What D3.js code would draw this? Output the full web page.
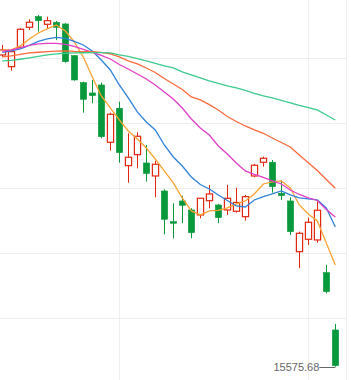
<!DOCTYPE html>
<html>
<head>
<meta charset="UTF-8">
<style>
body { margin: 0; background: #fff; }
svg { display: block; }
.grid line { stroke: #eeeeee; stroke-width: 1; shape-rendering: crispEdges; }
.ma { fill: none; stroke-width: 1.3; }
</style>
</head>
<body>
<svg width="351" height="380"></svg>
<script src="https://cdn.jsdelivr.net/npm/d3@7"></script>
<script>
// trading days shown in the window
var dates = [
  "2022-08-15","2022-08-16","2022-08-17","2022-08-18","2022-08-19","2022-08-22","2022-08-23",
  "2022-08-24","2022-08-25","2022-08-26","2022-08-29","2022-08-30","2022-08-31",
  "2022-09-01","2022-09-02","2022-09-05","2022-09-06","2022-09-07","2022-09-08","2022-09-09",
  "2022-09-13","2022-09-14","2022-09-15","2022-09-16","2022-09-19","2022-09-20","2022-09-21",
  "2022-09-22","2022-09-23","2022-09-26","2022-09-27","2022-09-28","2022-09-29","2022-09-30",
  "2022-10-03","2022-10-05","2022-10-06","2022-10-07"
];

var open  = [18693,18576,18770,18970,19076,19000,19020,19003,18686,18416,18313,18393,17820,18160,17586,17696,17613,17483,17333,17026,17233,17143,17093,17236,17193,17143,17130,17076,17483,17620,17620,17310,17233,16726,16850,16843,16516,15943];
var high  = [18793,18728,18960,19050,19093,19076,19033,19010,18689,18426,18443,18416,18116,18226,17910,17920,17793,17636,17350,17210,17286,17160,17262,17393,17203,17393,17366,17293,17603,17676,17643,17443,17270,16926,17066,17226,16593,16003];
var low   = [18673,18536,18766,18943,18926,18960,18843,18616,18436,18116,18210,17860,17736,17616,17416,17560,17426,17270,16900,16860,17010,16860,17060,17160,17010,17093,17116,17036,17470,17576,17316,17243,16893,16560,16793,16816,16310,15575.68];
var close = [18743,18726,18950,19020,19036,19036,18970,18626,18443,18250,18286,17876,18100,17716,17670,17880,17508,17600,17050,17010,17190,16916,17260,17303,17066,17260,17218,17276,17590,17660,17376,17286,16926,16910,17020,17140,16326,15586];

var ma5  = [18743,18743,18783,18853,18913,18953,18993,18933,18823,18673,18473,18283,18163,18043,17933,17853,17763,17653,17533,17413,17263,17133,17093,17133,17138,17163,17203,17233,17303,17403,17423,17433,17363,17193,17103,17033,16813,16593];
var ma10 = [18718,18733,18753,18788,18828,18853,18868,18858,18828,18793,18733,18643,18543,18393,18263,18123,18023,17943,17793,17673,17583,17473,17398,17353,17293,17238,17183,17173,17243,17276,17303,17333,17293,17263,17253,17243,17163,16973];
var ma20 = [18728,18743,18763,18788,18803,18808,18808,18798,18778,18748,18718,18688,18653,18598,18553,18503,18453,18393,18323,18253,18163,18053,17963,17893,17783,17703,17613,17533,17498,17468,17433,17403,17343,17298,17263,17238,17148,17073];
var ma30 = [18673,18683,18698,18713,18720,18726,18731,18733,18728,18726,18726,18718,18703,18673,18633,18603,18563,18518,18458,18403,18348,18273,18243,18196,18143,18078,18028,17983,17943,17910,17863,17818,17773,17693,17616,17538,17448,17360];
var ma60 = [18633,18638,18650,18663,18678,18693,18703,18710,18713,18715,18716,18716,18713,18693,18678,18656,18633,18608,18583,18563,18523,18493,18463,18433,18408,18383,18363,18338,18308,18283,18263,18238,18213,18188,18166,18143,18093,18043];

var maNames  = ["MA5", "MA10", "MA20", "MA30", "MA60"];
var maColors = ["#fba231", "#2f82d9", "#e23ec6", "#fa6a3b", "#3dca8c"];

// price levels of the horizontal grid
var gridPrices = [18660, 18010, 17360, 16710, 16060];

var upColor = "#e2250f", downColor = "#07993b";

var svg = d3.select("svg"),
    plotRight = 346,
    plotHeight = +svg.attr("height");

var parseTime = d3.timeParse("%Y-%m-%d");

var data = dates.map(function(d, i) {
  return { date: d, day: parseTime(d), open: open[i], high: high[i], low: low[i], close: close[i] };
});

var x = d3.scaleBand()
    .domain(dates)
    .range([-2.2, 339.8])
    .padding(0);

var y = d3.scaleLinear()
    .domain([15442.68, 19242.68])
    .range([plotHeight, 0]);

function cx(d) { return x(d) + x.bandwidth() / 2; }

// grid
var grid = svg.append("g").attr("class", "grid");

grid.selectAll(".h")
    .data(gridPrices)
  .enter().append("line")
    .attr("x1", 0)
    .attr("x2", plotRight)
    .attr("y1", function(d) { return Math.round(y(d)) + 0.5; })
    .attr("y2", function(d) { return Math.round(y(d)) + 0.5; });

// first trading day of each month
var monthStarts = data.filter(function(d, i) {
  return i > 0 && d.day.getMonth() !== data[i - 1].day.getMonth();
});

grid.selectAll(".v")
    .data(monthStarts)
  .enter().append("line")
    .attr("x1", function(d) { return Math.round(cx(d.date)) + 0.5; })
    .attr("x2", function(d) { return Math.round(cx(d.date)) + 0.5; })
    .attr("y1", 0)
    .attr("y2", plotHeight);

grid.append("line")
    .attr("x1", plotRight + 0.5)
    .attr("x2", plotRight + 0.5)
    .attr("y1", 0)
    .attr("y2", plotHeight);

// candles
var bodyW = 6.2;

var candle = svg.append("g").selectAll(".candle")
    .data(data)
  .enter().append("g")
    .attr("class", "candle");

candle.append("line")
    .attr("x1", function(d) { return Math.round(cx(d.date)) + 0.5; })
    .attr("x2", function(d) { return Math.round(cx(d.date)) + 0.5; })
    .attr("y1", function(d) { return y(d.high); })
    .attr("y2", function(d) { return y(d.low); })
    .attr("stroke", function(d) { return d.close >= d.open ? upColor : downColor; })
    .attr("stroke-width", 1);

candle.append("rect")
    .attr("x", function(d) { return Math.round(cx(d.date)) + 0.5 - bodyW / 2; })
    .attr("y", function(d) { return y(Math.max(d.open, d.close)); })
    .attr("width", bodyW)
    .attr("height", function(d) { return Math.max(1, y(Math.min(d.open, d.close)) - y(Math.max(d.open, d.close))); })
    .attr("fill", function(d) { return d.close >= d.open ? "#fff" : downColor; })
    .attr("stroke", function(d) { return d.close >= d.open ? upColor : downColor; })
    .attr("stroke-width", function(d) { return d.close >= d.open ? 1.2 : 0.6; });

// moving averages, drawn over the candles
var maSeries = [ma5, ma10, ma20, ma30, ma60];

var line = d3.line()
    .x(function(d, i) { return cx(dates[i]); })
    .y(function(d) { return y(d); });

svg.append("g").selectAll(".ma")
    .data(maSeries)
  .enter().append("path")
    .attr("class", "ma")
    .attr("d", function(d) { return line(d); })
    .style("stroke", function(d, i) { return maColors[i]; });

// lowest low marker
var minBar = data[d3.minIndex(data, function(d) { return d.low; })];
var mx = cx(minBar.date), my = y(minBar.low);

svg.append("line")
    .attr("x1", mx - 16)
    .attr("x2", mx)
    .attr("y1", Math.round(my) + 0.5)
    .attr("y2", Math.round(my) + 0.5)
    .attr("stroke", "#666")
    .attr("stroke-width", 1);

svg.append("text")
    .attr("x", mx - 16)
    .attr("y", my)
    .attr("dy", "0.35em")
    .attr("text-anchor", "end")
    .style("font", "11px 'Liberation Sans', Arial, sans-serif")
    .attr("fill", "#666")
    .text(d3.format(".2f")(minBar.low));
</script>
</body>
</html>
